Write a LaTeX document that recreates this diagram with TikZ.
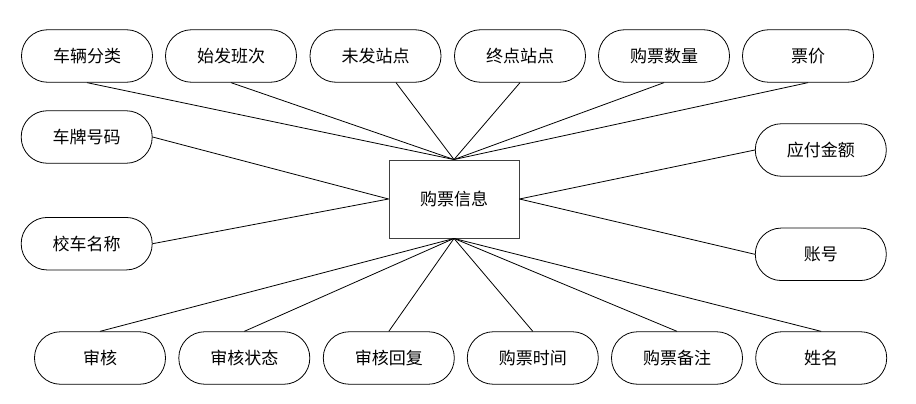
\documentclass[tikz,border=0pt]{standalone}
\usepackage{fontspec}
\newfontfamily\cjk{Noto Sans CJK SC}
\begin{document}
\begin{tikzpicture}[x=1pt,y=-1pt,
  attr/.style={draw=black,line width=0.8pt,rectangle,rounded corners=26pt,minimum width=131pt,minimum height=52.5pt,inner sep=0pt,font=\cjk\fontsize{17}{18}\selectfont},
  ent/.style={draw=black!75,line width=0.9pt,rectangle,minimum width=130pt,minimum height=78pt,inner sep=0pt,font=\cjk\fontsize{17}{18}\selectfont},
  link/.style={draw=black,line width=0.8pt}]
\useasboundingbox (0,0) rectangle (916,404);
\node[ent] (c) at (454,199) {购票信息};
% top row
\node[attr] (t1) at (87,56) {车辆分类};
\node[attr] (t2) at (231,56) {始发班次};
\node[attr] (t3) at (375.5,56) {未发站点};
\node[attr] (t4) at (520,56) {终点站点};
\node[attr] (t5) at (664,56) {购票数量};
\node[attr] (t6) at (808,56) {票价};
% sides
\node[attr] (l1) at (86.7,137) {车牌号码};
\node[attr] (l2) at (86.7,243.7) {校车名称};
\node[attr] (r1) at (820.8,150) {应付金额};
\node[attr] (r2) at (820.8,254.3) {账号};
% bottom row
\node[attr] (b1) at (100,358) {审核};
\node[attr] (b2) at (244.3,358) {审核状态};
\node[attr] (b3) at (388.8,358) {审核回复};
\node[attr] (b4) at (532.8,358) {购票时间};
\node[attr] (b5) at (677,358) {购票备注};
\node[attr] (b6) at (821.2,358) {姓名};
% connectors
\draw[link] (t1.south) -- (c.north);
\draw[link] (t2.south) -- (c.north);
\draw[link] ([xshift=20.5pt]t3.south) -- (c.north);
\draw[link] (t4.south) -- (c.north);
\draw[link] (t5.south) -- (c.north);
\draw[link] (t6.south) -- (c.north);
\draw[link] (l1.east) -- (c.west);
\draw[link] (l2.east) -- (c.west);
\draw[link] (r1.west) -- (c.east);
\draw[link] (r2.west) -- (c.east);
\draw[link] (b1.north) -- (c.south);
\draw[link] (b2.north) -- (c.south);
\draw[link] (b3.north) -- (c.south);
\draw[link] (b4.north) -- (c.south);
\draw[link] (b5.north) -- (c.south);
\draw[link] (b6.north) -- (c.south);
\end{tikzpicture}
\end{document}
